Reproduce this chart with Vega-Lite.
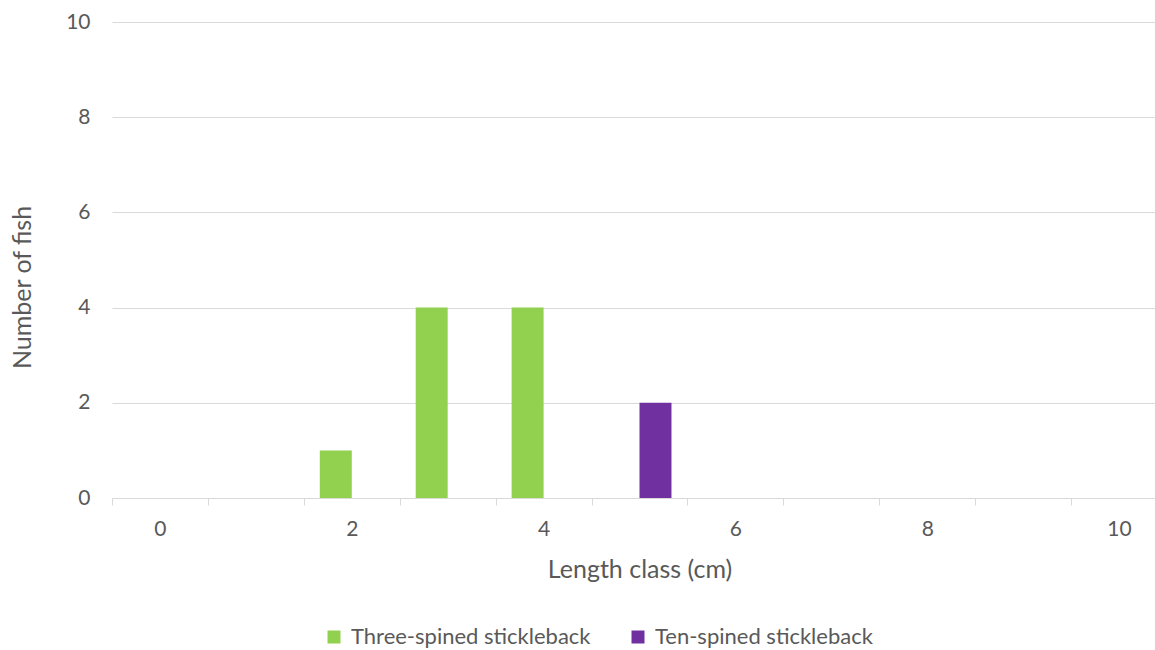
{
  "$schema": "https://vega.github.io/schema/vega-lite/v6.json",
  "width": 1043,
  "height": 476,
  "autosize": {"type": "none"},
  "padding": {"left": 112, "top": 22, "right": 0, "bottom": 152},
  "background": "white",
  "config": {
    "view": {"stroke": null},
    "font": "Lato",
    "axis": {"labelFont": "Lato", "titleFont": "Lato", "labelColor": "#595959", "titleColor": "#595959", "labelFontSize": 21, "titleFontSize": 25, "titleFontWeight": "normal"},
    "legend": {"labelFont": "Lato", "labelColor": "#595959", "labelFontSize": 22}
  },
  "data": {
    "values": [
      {"length": 0, "series": "Three-spined stickleback", "count": 0},
      {"length": 1, "series": "Three-spined stickleback", "count": 0},
      {"length": 2, "series": "Three-spined stickleback", "count": 1},
      {"length": 3, "series": "Three-spined stickleback", "count": 4},
      {"length": 4, "series": "Three-spined stickleback", "count": 4},
      {"length": 5, "series": "Three-spined stickleback", "count": 0},
      {"length": 6, "series": "Three-spined stickleback", "count": 0},
      {"length": 7, "series": "Three-spined stickleback", "count": 0},
      {"length": 8, "series": "Three-spined stickleback", "count": 0},
      {"length": 9, "series": "Three-spined stickleback", "count": 0},
      {"length": 10, "series": "Three-spined stickleback", "count": 0},
      {"length": 0, "series": "Ten-spined stickleback", "count": 0},
      {"length": 1, "series": "Ten-spined stickleback", "count": 0},
      {"length": 2, "series": "Ten-spined stickleback", "count": 0},
      {"length": 3, "series": "Ten-spined stickleback", "count": 0},
      {"length": 4, "series": "Ten-spined stickleback", "count": 0},
      {"length": 5, "series": "Ten-spined stickleback", "count": 2},
      {"length": 6, "series": "Ten-spined stickleback", "count": 0},
      {"length": 7, "series": "Ten-spined stickleback", "count": 0},
      {"length": 8, "series": "Ten-spined stickleback", "count": 0},
      {"length": 9, "series": "Ten-spined stickleback", "count": 0},
      {"length": 10, "series": "Ten-spined stickleback", "count": 0}
    ]
  },
  "mark": {"type": "bar"},
  "encoding": {
    "x": {
      "field": "length",
      "type": "ordinal",
      "scale": {"range": [0, 1055], "paddingInner": 0, "paddingOuter": 0},
      "axis": {
        "title": "Length class (cm)",
        "labelAngle": 0,
        "labelExpr": "datum.value % 2 === 0 ? datum.label : ''",
        "tickBand": "extent",
        "domainColor": "#D9D9D9",
        "tickColor": "#D9D9D9",
        "tickSize": 7,
        "labelPadding": 13,
        "titlePadding": 18,
        "grid": false
      }
    },
    "xOffset": {
      "field": "series",
      "type": "nominal",
      "scale": {"domain": ["Three-spined stickleback", "Ten-spined stickleback"], "paddingInner": 0, "paddingOuter": 0.5}
    },
    "y": {
      "field": "count",
      "type": "quantitative",
      "scale": {"domain": [0, 10]},
      "axis": {
        "title": "Number of fish",
        "values": [0, 2, 4, 6, 8, 10],
        "domain": false,
        "ticks": false,
        "tickSize": 0,
        "labelPadding": 22,
        "gridColor": "#D9D9D9",
        "titleX": -90,
        "titleY": 265,
        "titleAngle": -90,
        "titleBaseline": "middle",
        "titleAlign": "center"
      }
    },
    "color": {
      "field": "series",
      "type": "nominal",
      "scale": {"domain": ["Three-spined stickleback", "Ten-spined stickleback"], "range": ["#92D050", "#7030A0"]},
      "legend": {
        "title": null,
        "orient": "none",
        "direction": "horizontal",
        "legendX": 211,
        "legendY": 604,
        "symbolType": "square",
        "symbolSize": 169,
        "symbolStrokeWidth": 0,
        "labelOffset": 6,
        "labelLimit": 400,
        "columnPadding": 36
      }
    }
  }
}
